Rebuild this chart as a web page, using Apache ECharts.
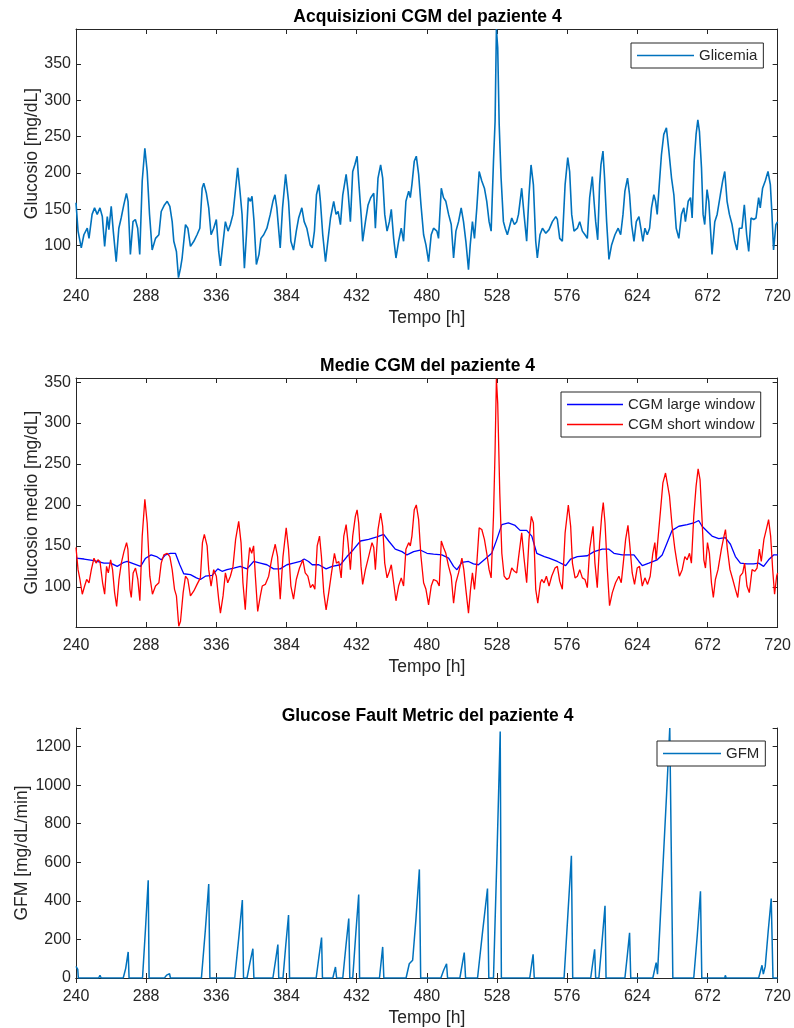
<!DOCTYPE html>
<html>
<head>
<meta charset="utf-8">
<script src="https://cdn.jsdelivr.net/npm/echarts@6/dist/echarts.min.js"></script>
<style>html,body{margin:0;padding:0;background:#fff}#chart{width:794px;height:1028px}</style>
</head>
<body>
<div id="chart"></div>
<script>
// ---------- Tick labels ----------
const xTicks = [240, 288, 336, 384, 432, 480, 528, 576, 624, 672, 720];
const yTicksCgm = [100, 150, 200, 250, 300, 350];
const yTicksMean = [100, 150, 200, 250, 300, 350];
const yTicksGfm = [0, 200, 400, 600, 800, 1000, 1200];
const yLimCgm = [55.5, 398];
const yLimMean = [51, 355];
const yLimGfm = [0, 1296];

// ---------- Panel 1: CGM acquisitions ----------
const cgmTime = [240,241.4,243.6,245.4,247.7,248.9,251,252.7,254.5,256.4,258,259.6,261.4,262.5,264.1,265.5,267.5,269.3,270.9,272.7,274.5,275.6,277.2,279,280.6,282.2,283.6,285.3,287.1,288.7,290.3,292.1,294.4,296.7,298.3,300.5,302.4,304.2,305.8,306.9,308.7,310.1,311.5,312.6,314.9,316.5,318.3,320.6,322.8,324.7,326.3,327.4,329.2,330.8,332.4,334.2,336,337.6,338.8,340.4,342.2,344,345.6,347.4,349,350.6,352,353.6,355.2,356.6,357.9,359.3,360.4,361.8,363.4,365.2,366.5,368.4,370.6,372.9,374.7,376.1,377.4,379.7,381.3,383.4,385.4,387,388.8,390.7,392.3,394.5,396.1,397.9,400.2,401.6,403.1,404.5,406.1,407.2,408.8,410.7,412.5,414.1,416.3,417.9,419.3,420.9,422.5,424.8,426.1,427.7,429.3,430.7,432.3,433.4,435.2,436.1,438,439.8,441.6,443.7,444.8,446.6,448.4,449.8,451.2,452.8,454.4,455.7,457.3,458.9,460.7,462.5,464.1,465.7,467.6,468.7,469.8,471.4,472.8,474.4,476,477.8,479.4,481.2,483,484.6,486.9,488,489.9,491.4,493,494.9,496.7,498.3,499.9,501.7,503.5,505.1,506.7,508.5,509.7,511.2,512.6,514.2,515.8,517.6,519.4,521,522.6,524,525.6,526.7,527.6,528.5,529.5,530.8,532.4,533.6,535.1,536.3,538.1,539.9,541.5,542.7,544.9,546.5,548.3,549.9,551.3,552.9,554.5,555.6,557.4,559.1,561.4,563.6,565.9,568.2,569.3,570.9,572.7,574.6,576.4,577.7,579.1,580.7,583,584.6,586.4,588.2,589.8,591.4,593.2,594.4,595.5,596.9,598.2,599.1,600.5,601.6,603,604.6,606.4,608.7,610.9,612.6,614.2,615.5,617.3,618.7,620.1,621.7,623.3,625.1,626.4,627.8,629.2,630.8,632.4,633.7,635.3,636.5,637.6,639.2,640.5,642.1,643.9,645.6,647.4,649,650.6,652.4,654.2,655.8,656.9,658.8,660.4,661.5,662.9,664.2,665.4,666.5,667.9,669,670.1,671.7,672.9,674,675.1,677,678.6,680.8,682.4,683.8,685.4,687,688.8,690.6,692.2,693.8,695.6,697.2,698.8,700.2,701.8,703.6,705.2,707,708.1,709.7,711.5,713.4,715,716.1,717.2,718.8,720];
const cgmValue = [159,120,97,115,124,110,143,152,143,152,140,99,140,122,154,120,78,124,138,156,172,161,88,133,136,124,88,189,234,202,143,94,110,115,147,156,161,154,133,106,92,56,69,83,129,124,99,106,115,124,179,186,172,152,115,124,136,92,72,101,133,120,129,143,175,207,179,143,69,115,166,161,168,133,74,88,110,115,124,143,161,170,152,97,152,198,161,106,94,120,138,152,133,124,101,97,120,170,184,161,115,78,110,138,161,143,147,129,170,198,175,133,202,211,223,189,138,106,133,156,166,172,124,193,211,193,143,120,133,150,110,83,106,124,106,161,175,166,184,216,223,198,156,115,101,78,115,124,120,110,179,166,161,143,129,83,120,133,152,133,106,67,101,133,110,152,202,189,179,161,133,120,216,271,398,372,267,193,133,124,115,124,138,129,133,143,179,143,106,170,211,184,106,83,115,124,117,122,133,140,136,110,106,184,221,202,143,120,124,133,120,115,110,166,195,161,133,108,184,211,230,193,133,81,101,115,124,115,143,175,193,170,129,106,133,140,124,106,124,115,124,152,170,161,143,189,225,253,262,230,193,170,124,110,143,152,133,161,166,138,216,253,273,257,207,143,129,177,161,124,88,133,143,170,189,202,161,143,129,106,94,124,124,156,115,92,138,136,138,166,152,179,189,202,184,143,94,129,133];

// ---------- Panel 2: CGM means ----------
const shortTime = [240,241.4,242.7,244.3,245.9,247.3,248.9,250.5,252.3,253.7,255,256.4,258.2,259.6,260.9,262.1,263.7,265,266.4,267.8,269.4,271,272.8,274.6,275.5,276.9,277.8,279.1,280.7,282.3,283.7,285.3,287.1,288.7,290.5,292.3,294.4,296.7,298.3,300.1,302.4,304.2,305.8,307.4,308.7,310.3,311.5,313.3,314.9,316.5,318.3,320.6,322.8,325.1,326.5,327.8,329.7,330.8,332.4,334.2,336,337.6,338.8,340.6,342.2,343.8,345.6,347.4,349.2,351.3,352.9,354.2,355.8,357.4,358.8,360.2,361.5,362.7,364.3,366.1,367.4,369.5,371.8,374,376.3,377.9,379.7,381.6,383.8,385.4,387,388.8,390.7,392.9,395.2,396.8,398.6,400.4,402,403.4,405,406.6,407.9,409.5,411.1,412.9,414.8,416.8,418.2,419.8,421.4,423.2,424.8,426.1,427.7,429.3,431.1,432.3,433.4,435,436.1,438,440.2,442.5,443.7,444.8,446.6,448.4,449.8,451.2,452.8,454.4,455.7,457.3,458.9,460.7,462.5,464.1,465.7,467.6,468.7,469.8,471.4,472.8,474.4,476,477.8,479.4,481.2,483,484.6,486.9,488.5,489.9,491.4,493,494.9,496.7,498.3,499.9,501.7,504,505.3,506.7,508.5,509.9,511.2,512.6,514.2,515.8,517.6,519.4,521,522.6,524,525.6,526.7,527.6,528.5,529.9,531.3,532.9,534.7,536.3,538.1,539.9,541.5,542.7,544.9,546.5,548.3,549.9,551.5,552.9,554.5,555.9,557.7,558.6,560.2,561.8,563.6,565.4,567.7,569.3,570.9,572.7,574.6,576.8,578.4,579.6,581.4,583,584.6,586.4,588.2,589.8,591.4,593.7,595,596.6,598.2,599.6,600.7,601.9,603.5,605,606.9,609.1,611.4,613,614.4,616,617.6,618.9,620.5,622.1,623.9,625.5,627.4,629.2,631,632.8,634.6,636,636.9,638.3,639.9,641.5,643.3,644.6,646,647.8,649.7,651.2,652.8,654.7,656.5,658.1,659.7,661,662.6,664.2,665.6,666.9,668.3,669.5,670.6,672,673.3,674.7,676,677.4,679.2,681.5,683.3,684.3,685.6,687.4,689.3,691.1,692.7,694.3,696.1,697.4,699,700.6,702.5,704.3,705.9,707.5,708.8,710.6,712.5,713.8,715.2,716.6,717.9,719.3,720];
const shortValue = [148,121,109,91,101,109,105,121,135,129,133,131,105,91,125,117,133,121,93,76,109,129,143,154,146,97,87,117,123,109,83,162,207,178,113,91,101,105,129,139,141,137,121,97,89,52,58,93,113,109,89,95,103,111,154,164,150,121,101,121,113,85,68,89,117,105,113,125,158,180,154,105,72,121,148,141,150,113,70,89,101,103,113,135,152,137,85,137,172,146,101,85,109,123,133,117,113,99,103,97,150,162,137,93,72,93,117,141,129,131,111,162,176,154,121,162,186,194,178,125,103,121,137,154,148,121,170,190,174,129,111,119,127,105,83,101,111,101,146,154,150,162,194,200,182,137,105,97,78,101,109,107,101,156,148,141,125,113,80,105,117,135,121,97,68,97,117,97,129,172,170,158,141,121,111,186,267,354,324,215,141,113,109,111,123,119,117,135,166,135,105,158,186,178,97,80,105,109,105,113,101,113,123,125,107,97,166,200,174,129,111,113,121,111,109,99,146,174,129,99,154,186,203,178,121,77,93,105,113,105,129,158,175,150,117,103,123,125,101,111,103,113,141,154,133,162,194,227,239,237,211,174,146,129,113,121,137,133,141,129,186,223,244,231,182,133,123,154,141,105,87,109,121,146,162,170,146,121,109,97,87,113,117,129,101,93,121,119,123,146,131,158,172,182,162,121,91,113,117];
const largeTime = [240,245.5,252.3,259.1,263.7,268.2,272.8,275,279.6,284.2,287.6,291.4,295.1,298.3,301.2,304.6,308,311,313.7,318.3,322.4,325.1,328.5,333.1,337,339.9,343.3,347.9,352.4,357,361.5,366.1,370.6,375.2,379.7,384.3,388.8,393.4,396.1,399.1,401.6,406.1,411.1,415.2,420.9,425.4,430,434.6,440.2,445.9,450.5,453.9,458.4,463,466.4,471,475.5,480.1,484.6,490.3,494.9,498.3,500.6,504,508.5,511.9,515.3,519.9,524.4,527.9,531.3,535.8,540.4,543.8,548.3,551.8,555.2,560.4,563.6,569.3,575,578.4,583,589.8,594.4,600,604.6,608,613.7,621.7,625.1,627.4,631.9,637.6,641,644.4,647.8,652.4,658.1,662.6,666,668.3,671.7,675.1,679.7,684.2,687.7,691.1,694.5,699,703.6,707,710.4,713.8,717.2,720];
const largeValue = [135,134,132,129,129,125,130,131,128,125,135,139,137,133,139,141,141,127,116,115,111,109,113,114,122,119,121,123,125,122,131,129,127,122,122,127,129,131,134,131,127,127,122,125,127,137,146,156,158,161,164,156,146,143,139,143,145,141,140,139,135,125,121,130,131,128,127,134,141,158,176,178,175,169,169,162,141,137,135,131,126,134,137,138,143,146,146,141,139,139,131,126,129,133,139,154,169,174,176,178,181,174,168,162,159,160,152,137,129,128,128,129,125,133,139,139];

// ---------- Panel 3: Glucose Fault Metric ----------
const gfmTime = [240,241.2,241.6,252,253,253.8,255.5,256.4,257.2,263.8,264.4,265,272.3,274,275.7,276.3,285.5,287.5,289.4,290,300.5,302,304,304.6,325.8,328.5,330.8,331.6,348.6,351.5,353.8,354.6,357,359,361,361.7,374.7,376.5,378.1,378.7,381.6,383.5,385.4,386.1,394.8,395.2,395.7,404.3,406.2,408,408.6,415.7,417.5,418.3,422.5,424.7,426.6,427.3,429.3,431.5,433.4,434,447.6,449.8,450.6,465.8,468,470.3,472.5,474.9,475.8,489.6,491.5,493.5,494.2,502.6,505.6,506.5,514.7,518,521.5,522.4,525.6,528,530.2,531,550.4,552.7,553.5,573.9,576.5,578.9,579.8,592.1,594.8,595.5,597.7,600,601.9,602.6,615.5,617.2,618.7,619.5,634.6,636.9,637.8,641,644,646.2,647.5,648.3,662.6,665,667.2,668.1,683.8,684.2,684.8,707,709.3,710.2,711.5,713.5,715.6,716.4,716.8,720];
const gfmValue = [60,45,0,0,9,0,0,14,0,0,5,0,0,50,135,0,0,250,507,0,0,15,22,0,0,250,487,0,0,220,404,0,0,80,152,0,0,90,173,0,0,170,326,0,0,5,0,0,110,210,0,0,57,0,0,170,308,0,0,240,433,0,0,161,0,0,74,92,300,563,0,0,40,74,0,0,132,0,0,230,464,0,0,640,1278,0,0,123,0,0,330,634,0,0,149,0,0,200,374,0,0,120,234,0,0,80,20,500,950,1296,1296,0,0,220,450,0,0,14,0,0,66,20,60,240,412,412,0,0];

const pairs = (t, v) => t.map((x, i) => [x, v[i]]);

const FONT = 'Liberation Sans, Arial, Helvetica, sans-serif';
const AX = '#262626';
const grids = [
  {left: 76, top: 29, width: 703, height: 249},
  {left: 76, top: 378, width: 703, height: 249},
  {left: 76, top: 728, width: 703, height: 250}
];
const titles = ['Acquisizioni CGM del paziente 4', 'Medie CGM del paziente 4', 'Glucose Fault Metric del paziente 4'];
const titleTops = [8, 357, 707];
const yNames = ['Glucosio [mg/dL]', 'Glucosio medio [mg/dL]', 'GFM [mg/dL/min]'];
const yNameGaps = [35, 35, 45];
const yLims = [yLimCgm, yLimMean, yLimGfm];
const yTickSets = [yTicksCgm, yTicksMean, yTicksGfm];

const xAxes = [], yAxes = [];
for (let g = 0; g < 3; g++) {
  const base = {
    gridIndex: g, type: 'value', min: xTicks[0], max: xTicks[xTicks.length - 1],
    interval: xTicks[1] - xTicks[0],
    axisLine: {show: true, lineStyle: {color: AX, width: 1}},
    axisTick: {show: true, inside: true, length: 5, lineStyle: {color: AX}},
    splitLine: {show: false}
  };
  xAxes.push(Object.assign({}, base, {
    position: 'bottom',
    name: 'Tempo [h]', nameLocation: 'middle', nameGap: 31, nameMoveOverlap: false,
    nameTextStyle: {fontFamily: FONT, fontSize: 17.5, color: AX},
    axisLabel: {show: true, margin: 11, fontFamily: FONT, fontSize: 16, color: AX,
      formatter: v => xTicks.includes(v) ? String(v) : ''}
  }));
  xAxes.push(Object.assign({}, base, {position: 'top', axisLabel: {show: false}}));
  const ticks = yTickSets[g];
  const step = ticks[1] - ticks[0];
  const ybase = {
    gridIndex: g, type: 'value', min: yLims[g][0], max: yLims[g][1],
    minInterval: step, maxInterval: step,
    axisLine: {show: true, lineStyle: {color: AX, width: 1}},
    axisTick: {show: true, inside: true, length: 5, lineStyle: {color: AX}},
    splitLine: {show: false}
  };
  yAxes.push(Object.assign({}, ybase, {
    position: 'left',
    name: yNames[g], nameLocation: 'middle', nameGap: yNameGaps[g], nameMoveOverlap: false,
    nameTextStyle: {fontFamily: FONT, fontSize: 17.5, color: AX},
    axisLabel: {show: true, margin: 5, fontFamily: FONT, fontSize: 16, color: AX,
      showMinLabel: true, showMaxLabel: true,
      formatter: v => ticks.some(t => Math.abs(t - v) < 1e-6) ? String(v) : ''}
  }));
  yAxes.push(Object.assign({}, ybase, {position: 'right', axisLabel: {show: false}}));
}

const legendBase = {
  orient: 'vertical', selectedMode: false, icon: 'rect', itemHeight: 1.6,
  padding: [4, 6, 4, 6], backgroundColor: '#fff', borderColor: AX, borderWidth: 1, borderRadius: 0,
  textStyle: {fontFamily: FONT, fontSize: 15, color: AX, lineHeight: 17}
};

const option = {
  animation: false,
  backgroundColor: '#fff',
  textStyle: {fontFamily: FONT},
  title: titles.map((t, i) => ({
    text: t, left: 427.5, top: titleTops[i], textAlign: 'center', padding: 0,
    textStyle: {fontFamily: FONT, fontSize: 17.5, fontWeight: 'bold', color: '#000'}
  })),
  grid: grids,
  xAxis: xAxes,
  yAxis: yAxes,
  legend: [
    Object.assign({}, legendBase, {data: ['Glicemia'], left: 631, top: 43, itemWidth: 57}),
    Object.assign({}, legendBase, {data: ['CGM large window', 'CGM short window'], left: 561, top: 392, itemWidth: 56, itemGap: 3}),
    Object.assign({}, legendBase, {data: ['GFM'], left: 657, top: 741, itemWidth: 58})
  ],
  series: [
    {name: 'Glicemia', type: 'line', xAxisIndex: 0, yAxisIndex: 0, data: pairs(cgmTime, cgmValue),
     symbol: 'none', showSymbol: false, color: '#0072BD', lineStyle: {color: '#0072BD', width: 1.6}},
    {name: 'CGM large window', type: 'line', xAxisIndex: 2, yAxisIndex: 2, data: pairs(largeTime, largeValue),
     symbol: 'none', showSymbol: false, color: '#0000FF', lineStyle: {color: '#0000FF', width: 1.3}},
    {name: 'CGM short window', type: 'line', xAxisIndex: 2, yAxisIndex: 2, data: pairs(shortTime, shortValue),
     symbol: 'none', showSymbol: false, color: '#FF0000', lineStyle: {color: '#FF0000', width: 1.3}},
    {name: 'GFM', type: 'line', xAxisIndex: 4, yAxisIndex: 4, data: pairs(gfmTime, gfmValue),
     symbol: 'none', showSymbol: false, color: '#0072BD', lineStyle: {color: '#0072BD', width: 1.5}}
  ]
};
const chart = echarts.init(document.getElementById('chart'), null, {renderer: 'canvas'});
chart.setOption(option);
</script>
</body>
</html>
